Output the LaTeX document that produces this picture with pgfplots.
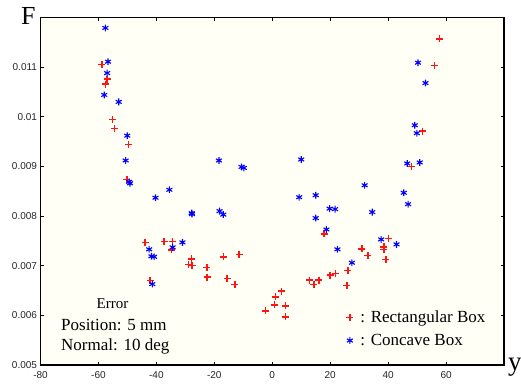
\documentclass[border=0pt]{standalone}
\usepackage{pgfplots}
\pgfplotsset{compat=1.18}
\usepackage{pgfplotstable}
\usepackage{fontspec}
\setmainfont{Liberation Serif}
\newfontfamily\tickfont{Liberation Sans}
\definecolor{cream}{RGB}{255,255,246}
\definecolor{mblue}{RGB}{0,0,255}
\definecolor{mred}{RGB}{255,20,20}

\pgfplotstableread{
x y
-58.8 0.01105
-57.0 0.01076
-57.5 0.01066
-55.2 0.00995
-54.5 0.00976
-49.6 0.00944
-50.2 0.00874
-43.9 0.00747
-37.3 0.00749
-34.5 0.00749
-34.7 0.00732
-27.85 0.00714
-28.95 0.00702
-27.7 0.00700
-22.6 0.00696
-22.45 0.00677
-16.9 0.00718
-11.4 0.00723
-15.6 0.00674
-12.9 0.00662
-42.2 0.00670
-2.3 0.00609
0.7 0.00621
1.2 0.00637
3.2 0.00649
4.6 0.00619
4.6 0.00597
12.9 0.00671
14.4 0.00662
16.1 0.00671
19.95 0.00681
21.8 0.00684
26.1 0.00690
25.8 0.00660
17.9 0.00764
30.95 0.00734
33.0 0.00721
40.1 0.00755
38.5 0.00738
38.5 0.00733
39.2 0.00713
48.0 0.00900
51.9 0.00971
56.0 0.01103
57.7 0.01157
}\rectbox

\pgfplotstableread{
x y
-57.6 0.01179
-56.7 0.01111
-57.0 0.01088
-58.0 0.01044
-53.0 0.01030
-50.05 0.00962
-50.6 0.00912
-49.4 0.00869
-49.1 0.00866
-40.3 0.00837
-35.5 0.00853
-27.8 0.00806
-27.7 0.00804
-18.2 0.00810
-16.9 0.00803
-18.4 0.00912
-10.6 0.00899
-9.8 0.00897
-31.0 0.00747
-42.5 0.00733
-34.4 0.00737
-41.7 0.00719
-40.8 0.00718
-41.4 0.00663
10.0 0.00914
9.3 0.00838
15.0 0.00842
19.8 0.00815
21.7 0.00814
15.0 0.00796
18.7 0.00773
22.5 0.00733
27.5 0.00706
31.9 0.00862
34.5 0.00808
37.6 0.00753
42.9 0.00743
45.4 0.00847
46.9 0.00824
46.6 0.00906
50.9 0.00908
49.2 0.00983
49.9 0.00967
50.3 0.01109
52.9 0.01068
}\concbox

\begin{document}
\begin{tikzpicture}
\useasboundingbox (0,0) rectangle (521pt,383pt);
\begin{axis}[
  at={(40.5pt,18pt)}, anchor=south west,
  scale only axis,
  width=463.5pt, height=347.5pt,
  xmin=-80, xmax=80, ymin=0.005, ymax=0.012,
  xtick={-80,-60,...,60},
  ytick={0.005,0.006,...,0.0111},
  scaled y ticks=false,
  yticklabel style={/pgf/number format/fixed, /pgf/number format/precision=3},
  xticklabel style={yshift=-3pt},
  /pgf/number format/assume math mode=true,
  tick label style={font=\tickfont\fontsize{10}{12}\selectfont, text=black!85},
  tick pos=both, tick align=inside,
  major tick length=3pt,
  tick style={line width=0.8pt, black},
  axis line style={line width=1.2pt, black},
  axis background/.style={fill=cream},
  legend style={draw=none, fill=none, at={(0.653,0.165)}, anchor=north west,
    font=\fontsize{17}{20}\selectfont, row sep=8pt,
    nodes={inner sep=1pt},
    /tikz/every odd column/.append style={column sep=6pt}},
  legend cell align=left,
  legend image code/.code={\draw[#1] plot coordinates {(0pt,0pt)};},
]
\addplot[only marks, mark=+, mark size=3.5pt, draw=mred, mark options={draw=mred, line width=1.5pt}] table[x=x,y=y] {\rectbox};
\addlegendentry{: Rectangular Box}
\addplot[only marks, mark=asterisk, mark size=3.4pt, draw=mblue, mark options={draw=mblue, line width=1.1pt}] table[x=x,y=y] {\concbox};
\addlegendentry{: Concave Box}
\end{axis}
\node[anchor=base west, font=\fontsize{26}{28}\selectfont, inner sep=0pt] at (21pt,358pt) {F};
\node[anchor=base west, font=\fontsize{27}{28}\selectfont, inner sep=0pt] at (508pt,13pt) {y};
\node[anchor=base, font=\fontsize{15}{17}\selectfont, inner sep=0pt] at (112.5pt,74.7pt) {Error};
\node[anchor=base west, font=\fontsize{17}{19}\selectfont, inner sep=0pt] at (61pt,53pt) {Position: 5 mm};
\node[anchor=base west, font=\fontsize{17}{19}\selectfont, inner sep=0pt] at (61pt,33pt) {Normal: 10 deg};
\end{tikzpicture}
\end{document}
